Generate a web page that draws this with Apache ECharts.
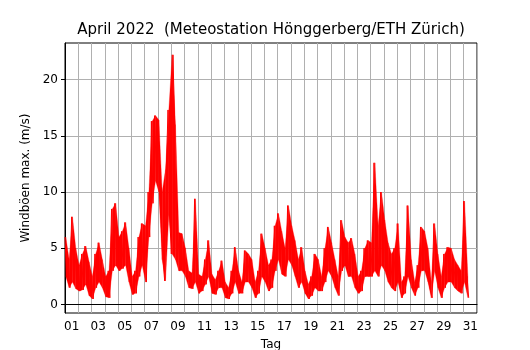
<html>
<head>
<meta charset="UTF-8">
<script src="https://cdn.jsdelivr.net/npm/echarts@6.0.0/dist/echarts.min.js"></script>
</head>
<body style="margin:0;background:#fff">

<div id="windChart" style="width:530px;height:350px;"></div>

<script>
    // Tage (Beschriftung der x-Achse, jeder zweite wird angezeigt)
    var days = ['01', '02', '03', '04', '05', '06', '07', '08', '09', '10',
                '11', '12', '13', '14', '15', '16', '17', '18', '19', '20',
                '21', '22', '23', '24', '25', '26', '27', '28', '29', '30', '31'];
    var yTicks = [0, 5, 10, 15, 20];
    // Abstand der Messwerte in Stunden
    var stepHours = 3;
    // Windböen max. (m/s), 8 Werte pro Tag
    var gust = [
        6.0, 2.5, 4.0, 1.5, 7.8, 2.0, 5.0, 1.4,    // 01
        3.5, 1.2, 4.5, 1.3, 5.2, 1.8, 3.8, 0.8,    // 02
        2.5, 0.5, 4.5, 1.5, 5.5, 2.0, 4.0, 1.5,    // 03
        2.5, 0.7, 3.0, 0.6, 8.5, 3.0, 9.0, 3.5,    // 04
        6.0, 3.0, 6.5, 3.2, 7.3, 3.5, 5.0, 2.0,    // 05
        2.5, 0.9, 3.0, 1.0, 6.0, 2.5, 7.2, 3.5,    // 06
        7.0, 2.0, 10.0, 6.0, 16.3, 9.0, 16.8, 11.0, // 07
        16.4, 10.0, 10.0, 4.0, 2.1, 12.0, 17.3, 8.0, // 08
        4.5, 22.2, 16.0, 4.0, 6.4, 3.0, 6.3, 3.0,  // 09
        5.0, 2.5, 3.0, 1.5, 2.8, 1.4, 9.4, 2.0,    // 10
        2.7, 1.0, 2.5, 1.2, 4.0, 1.8, 5.7, 2.5,    // 11
        2.7, 1.0, 2.2, 0.9, 3.0, 1.5, 3.9, 1.5,    // 12
        2.0, 0.6, 1.5, 0.5, 3.0, 1.0, 5.1, 2.0,    // 13
        3.0, 1.0, 2.0, 1.0, 4.8, 2.0, 4.5, 2.0,    // 14
        4.0, 1.5, 2.0, 0.6, 3.0, 1.0, 6.3, 2.5,    // 15
        5.0, 2.0, 3.5, 1.2, 4.0, 1.5, 7.0, 3.0,    // 16
        8.1, 4.0, 6.5, 2.7, 5.0, 2.5, 8.8, 4.0,    // 17
        7.0, 3.5, 5.7, 2.5, 4.0, 1.5, 5.1, 2.0,    // 18
        3.0, 1.0, 1.8, 0.5, 2.5, 0.8, 4.5, 1.5,    // 19
        4.0, 1.2, 2.5, 1.2, 5.0, 2.0, 6.9, 3.0,    // 20
        5.5, 2.5, 4.0, 1.5, 2.5, 0.8, 7.5, 3.0,    // 21
        6.0, 3.5, 5.5, 2.5, 5.9, 2.5, 4.5, 1.5,    // 22
        2.5, 1.0, 3.0, 1.2, 5.0, 2.5, 5.7, 2.5,    // 23
        5.5, 2.5, 12.6, 3.0, 7.0, 2.5, 10.0, 3.5,  // 24
        7.5, 3.0, 5.5, 2.0, 4.5, 1.5, 5.0, 1.2,    // 25
        7.2, 2.0, 2.0, 0.6, 2.5, 1.0, 8.8, 2.5,    // 26
        4.0, 1.5, 2.0, 0.8, 3.5, 1.5, 6.9, 3.0,    // 27
        6.5, 3.0, 5.0, 2.0, 2.0, 0.6, 7.2, 3.0,    // 28
        4.5, 1.5, 2.5, 0.6, 4.5, 1.5, 5.1, 2.0,    // 29
        5.0, 2.0, 4.0, 1.5, 3.5, 1.2, 3.0, 1.0,    // 30
        9.2, 2.0, 2.5, 0.6                         // 31
    ];

    var windChart = echarts.init(document.getElementById('windChart'));

    // x-Wert in Tagen seit Monatsbeginn
    var points = [];
    for (var i = 0; i < gust.length; i++) {
        points.push([i * stepHours / 24, gust[i]]);
    }
    // Band zwischen Minimum und Maximum je Wertepaar (dichte Messreihe)
    var band = [];
    for (var k = 0; k + 1 < gust.length; k += 2) {
        band.push([(k + 0.5) * stepHours / 24,
                   Math.min(gust[k], gust[k + 1]),
                   Math.max(gust[k], gust[k + 1])]);
    }

    function renderBand(params, api) {
        var i = params.dataIndex;
        if (i >= band.length - 1) {
            return null;
        }
        var a = band[i], b = band[i + 1];
        return {
            type: 'polygon',
            shape: {
                points: [
                    api.coord([a[0], a[2]]), api.coord([b[0], b[2]]),
                    api.coord([b[0], b[1]]), api.coord([a[0], a[1]])
                ]
            },
            style: {fill: '#ff0000', stroke: '#ff0000', lineWidth: 0.3}
        };
    }

    var font = 'DejaVu Sans';
    windChart.setOption({
        animation: false,
        textStyle: {fontFamily: font},
        title: {
            text: 'April 2022  (Meteostation Hönggerberg/ETH Zürich)',
            left: 266,
            textAlign: 'center',
            top: 18,
            textStyle: {fontFamily: font, fontSize: 15, fontWeight: 'normal', color: '#000'}
        },
        grid: {
            left: 65, right: 53, top: 43, bottom: 37,
            outerBoundsMode: 'none',
            show: true, borderColor: '#000', borderWidth: 1
        },
        xAxis: [
            {
                type: 'category',
                data: days,
                boundaryGap: true,
                name: 'Tag',
                nameLocation: 'middle',
                nameGap: 26,
                nameTextStyle: {fontFamily: font, fontSize: 12, color: '#000'},
                axisLine: {lineStyle: {color: '#000'}},
                axisTick: {interval: 0, length: 4, lineStyle: {color: '#000'}},
                axisLabel: {interval: 1, margin: 8, fontSize: 12, color: '#000', fontFamily: font},
                splitLine: {show: true, interval: 0, lineStyle: {color: '#b0b0b0', width: 1}}
            },
            {
                type: 'value',
                min: 0,
                max: 31,
                show: false
            }
        ],
        yAxis: {
            type: 'value',
            min: -0.75,
            max: 23.25,
            name: 'Windböen max. (m/s)',
            nameLocation: 'middle',
            nameGap: 28,
            nameTextStyle: {fontFamily: font, fontSize: 12, color: '#000'},
            axisLine: {show: true, lineStyle: {color: '#000'}},
            axisTick: {show: true, length: 4, customValues: yTicks, lineStyle: {color: '#000'}},
            axisLabel: {customValues: yTicks, margin: 7, fontSize: 12, color: '#000', fontFamily: font},
            splitLine: {show: true, lineStyle: {color: '#b0b0b0', width: 1}}
        },
        series: [
            {
                name: 'Spanne',
                type: 'custom',
                xAxisIndex: 1,
                data: band,
                encode: {x: 0, y: [1, 2]},
                renderItem: renderBand,
                silent: true
            },
            {
                name: 'Windböen',
                type: 'line',
                xAxisIndex: 1,
                data: points,
                symbol: 'none',
                lineStyle: {color: '#ff0000', width: 1}
            }
        ]
    });
</script>
</body>
</html>
